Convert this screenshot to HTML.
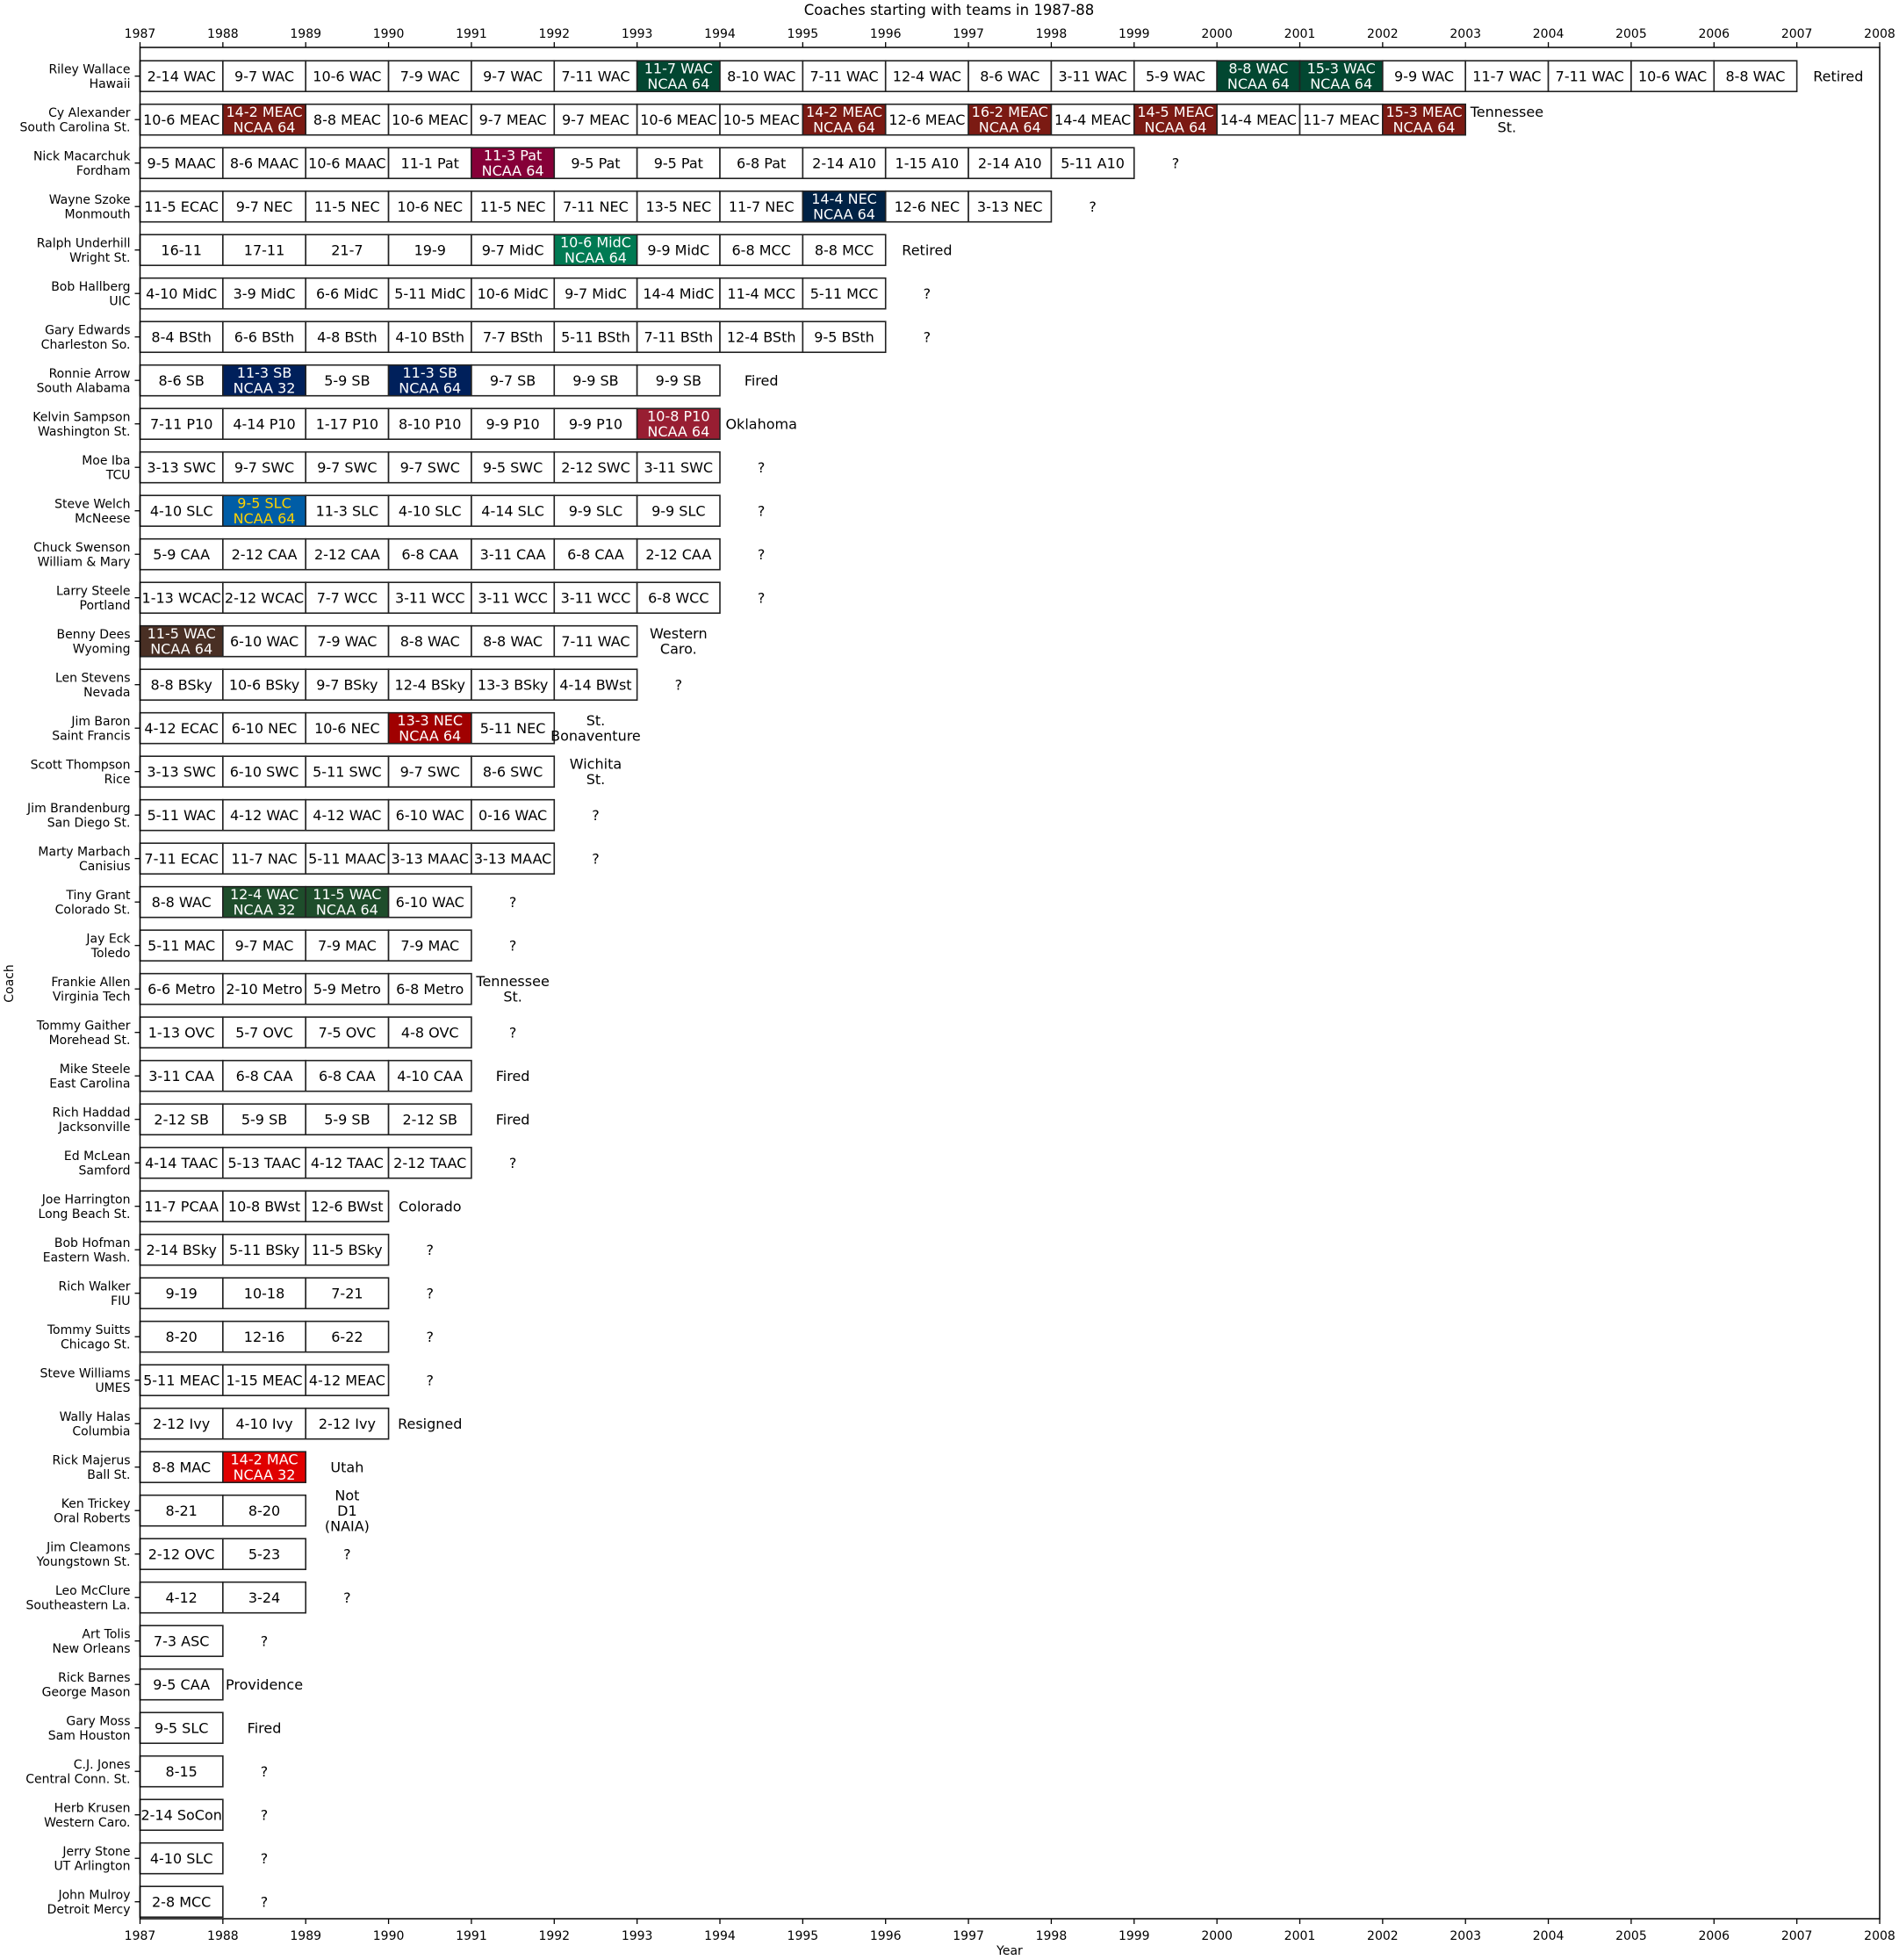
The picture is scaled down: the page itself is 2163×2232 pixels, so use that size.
<!DOCTYPE html>
<html><head><meta charset="utf-8"><style>
body{margin:0;background:#fff}
svg{display:block;font-family:"DejaVu Sans","Liberation Sans",sans-serif}
</style></head><body>
<svg id="chart" width="2163" height="2232" viewBox="0 0 2163 2232" xmlns="http://www.w3.org/2000/svg">
<text x="1081" y="17" font-size="16.5" text-anchor="middle">Coaches starting with teams in 1987-88</text>
<text x="1150" y="2226" font-size="14" text-anchor="middle">Year</text>
<text transform="translate(15,1120) rotate(-90)" font-size="14" text-anchor="middle">Coach</text>
<g id="plot"></g>
</svg>
<script>
const coaches=["Riley Wallace","Cy Alexander","Nick Macarchuk","Wayne Szoke","Ralph Underhill","Bob Hallberg","Gary Edwards","Ronnie Arrow","Kelvin Sampson","Moe Iba","Steve Welch","Chuck Swenson","Larry Steele","Benny Dees","Len Stevens","Jim Baron","Scott Thompson","Jim Brandenburg","Marty Marbach","Tiny Grant","Jay Eck","Frankie Allen","Tommy Gaither","Mike Steele","Rich Haddad","Ed McLean","Joe Harrington","Bob Hofman","Rich Walker","Tommy Suitts","Steve Williams","Wally Halas","Rick Majerus","Ken Trickey","Jim Cleamons","Leo McClure","Art Tolis","Rick Barnes","Gary Moss","C.J. Jones","Herb Krusen","Jerry Stone","John Mulroy"];
const schools=["Hawaii","South Carolina St.","Fordham","Monmouth","Wright St.","UIC","Charleston So.","South Alabama","Washington St.","TCU","McNeese","William & Mary","Portland","Wyoming","Nevada","Saint Francis","Rice","San Diego St.","Canisius","Colorado St.","Toledo","Virginia Tech","Morehead St.","East Carolina","Jacksonville","Samford","Long Beach St.","Eastern Wash.","FIU","Chicago St.","UMES","Columbia","Ball St.","Oral Roberts","Youngstown St.","Southeastern La.","New Orleans","George Mason","Sam Houston","Central Conn. St.","Western Caro.","UT Arlington","Detroit Mercy"];
const records=[
["2-14 WAC","9-7 WAC","10-6 WAC","7-9 WAC","9-7 WAC","7-11 WAC","11-7 WAC|NCAA 64","8-10 WAC","7-11 WAC","12-4 WAC","8-6 WAC","3-11 WAC","5-9 WAC","8-8 WAC|NCAA 64","15-3 WAC|NCAA 64","9-9 WAC","11-7 WAC","7-11 WAC","10-6 WAC","8-8 WAC"],
["10-6 MEAC","14-2 MEAC|NCAA 64","8-8 MEAC","10-6 MEAC","9-7 MEAC","9-7 MEAC","10-6 MEAC","10-5 MEAC","14-2 MEAC|NCAA 64","12-6 MEAC","16-2 MEAC|NCAA 64","14-4 MEAC","14-5 MEAC|NCAA 64","14-4 MEAC","11-7 MEAC","15-3 MEAC|NCAA 64"],
["9-5 MAAC","8-6 MAAC","10-6 MAAC","11-1 Pat","11-3 Pat|NCAA 64","9-5 Pat","9-5 Pat","6-8 Pat","2-14 A10","1-15 A10","2-14 A10","5-11 A10"],
["11-5 ECAC","9-7 NEC","11-5 NEC","10-6 NEC","11-5 NEC","7-11 NEC","13-5 NEC","11-7 NEC","14-4 NEC|NCAA 64","12-6 NEC","3-13 NEC"],
["16-11","17-11","21-7","19-9","9-7 MidC","10-6 MidC|NCAA 64","9-9 MidC","6-8 MCC","8-8 MCC"],
["4-10 MidC","3-9 MidC","6-6 MidC","5-11 MidC","10-6 MidC","9-7 MidC","14-4 MidC","11-4 MCC","5-11 MCC"],
["8-4 BSth","6-6 BSth","4-8 BSth","4-10 BSth","7-7 BSth","5-11 BSth","7-11 BSth","12-4 BSth","9-5 BSth"],
["8-6 SB","11-3 SB|NCAA 32","5-9 SB","11-3 SB|NCAA 64","9-7 SB","9-9 SB","9-9 SB"],
["7-11 P10","4-14 P10","1-17 P10","8-10 P10","9-9 P10","9-9 P10","10-8 P10|NCAA 64"],
["3-13 SWC","9-7 SWC","9-7 SWC","9-7 SWC","9-5 SWC","2-12 SWC","3-11 SWC"],
["4-10 SLC","9-5 SLC|NCAA 64","11-3 SLC","4-10 SLC","4-14 SLC","9-9 SLC","9-9 SLC"],
["5-9 CAA","2-12 CAA","2-12 CAA","6-8 CAA","3-11 CAA","6-8 CAA","2-12 CAA"],
["1-13 WCAC","2-12 WCAC","7-7 WCC","3-11 WCC","3-11 WCC","3-11 WCC","6-8 WCC"],
["11-5 WAC|NCAA 64","6-10 WAC","7-9 WAC","8-8 WAC","8-8 WAC","7-11 WAC"],
["8-8 BSky","10-6 BSky","9-7 BSky","12-4 BSky","13-3 BSky","4-14 BWst"],
["4-12 ECAC","6-10 NEC","10-6 NEC","13-3 NEC|NCAA 64","5-11 NEC"],
["3-13 SWC","6-10 SWC","5-11 SWC","9-7 SWC","8-6 SWC"],
["5-11 WAC","4-12 WAC","4-12 WAC","6-10 WAC","0-16 WAC"],
["7-11 ECAC","11-7 NAC","5-11 MAAC","3-13 MAAC","3-13 MAAC"],
["8-8 WAC","12-4 WAC|NCAA 32","11-5 WAC|NCAA 64","6-10 WAC"],
["5-11 MAC","9-7 MAC","7-9 MAC","7-9 MAC"],
["6-6 Metro","2-10 Metro","5-9 Metro","6-8 Metro"],
["1-13 OVC","5-7 OVC","7-5 OVC","4-8 OVC"],
["3-11 CAA","6-8 CAA","6-8 CAA","4-10 CAA"],
["2-12 SB","5-9 SB","5-9 SB","2-12 SB"],
["4-14 TAAC","5-13 TAAC","4-12 TAAC","2-12 TAAC"],
["11-7 PCAA","10-8 BWst","12-6 BWst"],
["2-14 BSky","5-11 BSky","11-5 BSky"],
["9-19","10-18","7-21"],
["8-20","12-16","6-22"],
["5-11 MEAC","1-15 MEAC","4-12 MEAC"],
["2-12 Ivy","4-10 Ivy","2-12 Ivy"],
["8-8 MAC","14-2 MAC|NCAA 32"],
["8-21","8-20"],
["2-12 OVC","5-23"],
["4-12","3-24"],
["7-3 ASC"],["9-5 CAA"],["9-5 SLC"],["8-15"],["2-14 SoCon"],["4-10 SLC"],["2-8 MCC"]
];
const outcomes=["Retired","Tennessee|St.","?","?","Retired","?","?","Fired","Oklahoma","?","?","?","?","Western|Caro.","?","St.|Bonaventure","Wichita|St.","?","?","?","?","Tennessee|St.","?","Fired","Fired","?","Colorado","?","?","?","?","Resigned","Utah","Not|D1|(NAIA)","?","?","?","Providence","Fired","?","?","?","?"];
const startYear=1987;
const teamColors={0:"#024731",1:"#7b1a13",2:"#860038",3:"#002245",4:"#007a53",7:"#00205b",8:"#981e32",10:"#005da6",13:"#492f24",15:"#a00000",19:"#1e4d2b",32:"#e00000"};
const xTicks=[1987,1988,1989,1990,1991,1992,1993,1994,1995,1996,1997,1998,1999,2000,2001,2002,2003,2004,2005,2006,2007,2008];

const L=159.5,R=2141,T=54,B=2185;
const x=yr=>L+(yr-1987)*(R-L)/21;
const y=i=>86.7+i*(2165.7-86.7)/(coaches.length-1);
const NS="http://www.w3.org/2000/svg";
const g=document.getElementById('plot');
function mk(tag,attrs,parent){const e=document.createElementNS(NS,tag);for(const k in attrs)e.setAttribute(k,attrs[k]);(parent||g).appendChild(e);return e;}
function multi(lines,cx,cy,size,fill,anchor,parent,gap){
  const t=mk('text',{x:cx,y:cy,'font-size':size,fill:fill,'text-anchor':anchor},parent);
  const n=lines.length;
  lines.forEach((s,k)=>{const ts=mk('tspan',{x:cx,y:cy+(k-(n-1)/2)*gap+size*0.36},t);ts.textContent=s;});
  return t;
}
const hbox=17.5;
coaches.forEach((c,i)=>{
  const row=mk('g',{});
  
  
  records[i].forEach((r,j)=>{
    const yr=startYear+j;
    const hl=r.includes('|');
    const fill=hl?(teamColors[i]||"#444"):"#fff";
    const rect=mk('rect',{x:x(yr),y:y(i)-hbox,width:x(yr+1)-x(yr),height:2*hbox,fill:fill,stroke:"#222",'stroke-width':1.6},row);
    
    
    const tc=hl?(i===10?"#ffd200":"#fff"):"#000";
    const t=multi(r.split('|'),(x(yr)+x(yr+1))/2,y(i),16,tc,'middle',row,17.5);
    
    
  });
  const endYr=startYear+records[i].length;
  const o=multi(outcomes[i].split('|'),(x(endYr)+x(endYr+1))/2,y(i),16,"#000",'middle',row,17.5);
  
  
  const lab=multi([c,schools[i]],L-11,y(i),14,"#000",'end',row,16.5);
  
  
  mk('line',{x1:L-6,x2:L,y1:y(i),y2:y(i),stroke:"#000",'stroke-width':1.3},row);
});
const ax=mk('rect',{x:L,y:T,width:R-L,height:B-T,fill:"none",stroke:"#000",'stroke-width':1.5});


xTicks.forEach(v=>{
  mk('line',{x1:x(v),x2:x(v),y1:B,y2:B+6,stroke:"#000",'stroke-width':1.3});
  mk('line',{x1:x(v),x2:x(v),y1:T,y2:T-6,stroke:"#000",'stroke-width':1.3});
  const b=mk('text',{x:x(v),y:B+24,'font-size':14,'text-anchor':'middle'});b.textContent=v;
  
  
  const t=mk('text',{x:x(v),y:T-11,'font-size':14,'text-anchor':'middle'});t.textContent=v;
  
  
});
</script>
</body></html>
